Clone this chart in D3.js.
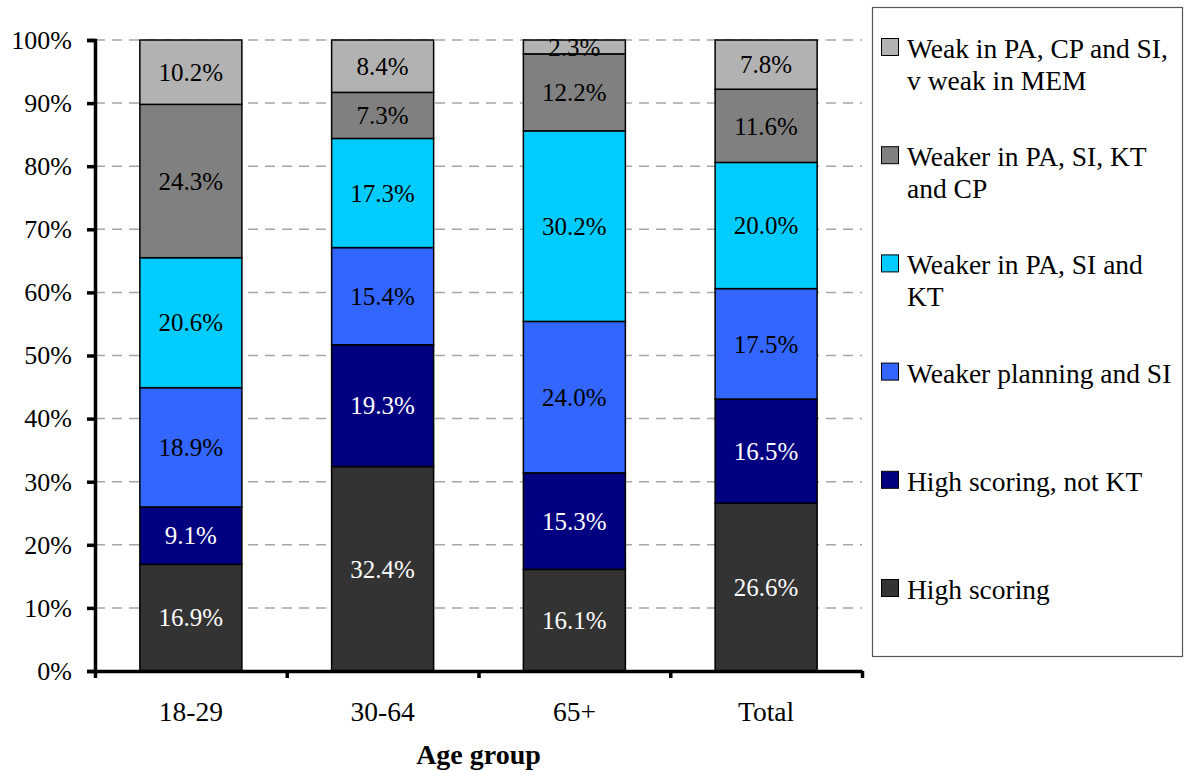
<!DOCTYPE html>
<html>
<head>
<meta charset="utf-8">
<script src="https://cdn.jsdelivr.net/npm/d3@7"></script>
<style>
  html, body { margin: 0; padding: 0; background: #fff; }
  svg { display: block; }
  svg text { font-family: "Liberation Serif", "Times New Roman", Times, serif !important; }
</style>
</head>
<body>
<svg id="chart" width="1187" height="771"></svg>
<script>
// Age groups along the x axis
const categories = ["18-29", "30-64", "65+", "Total"];

// Cluster shares (%) per age group, stacked bottom to top
const highScoring        = [16.9, 32.4, 16.1, 26.6];
const highScoringNotKT   = [9.1, 19.3, 15.3, 16.5];
const weakerPlanningSI   = [18.9, 15.4, 24.0, 17.5];
const weakerPaSiKt       = [20.6, 17.3, 30.2, 20.0];
const weakerPaSiKtCp     = [24.3, 7.3, 12.2, 11.6];
const weakPaCpSiMem      = [10.2, 8.4, 2.3, 7.8];

const seriesNames = [
  "High scoring",
  "High scoring, not KT",
  "Weaker planning and SI",
  "Weaker in PA, SI and KT",
  "Weaker in PA, SI, KT and CP",
  "Weak in PA, CP and SI, v weak in MEM"
];
// Legend text broken into lines as shown in the legend box
const legendLines = [
  ["High scoring"],
  ["High scoring, not KT"],
  ["Weaker planning and SI"],
  ["Weaker in PA, SI and", "KT"],
  ["Weaker in PA, SI, KT", "and CP"],
  ["Weak in PA, CP and SI,", "v weak in MEM"]
];
const seriesValues = [highScoring, highScoringNotKT, weakerPlanningSI, weakerPaSiKt, weakerPaSiKtCp, weakPaCpSiMem];

const yTicks = [0, 10, 20, 30, 40, 50, 60, 70, 80, 90, 100];
const xTitle = "Age group";

const colors = ["#333333", "#000080", "#3366ff", "#00ccff", "#808080", "#b2b2b2"];
const labelColors = ["#ffffff", "#ffffff", "#000000", "#000000", "#000000", "#000000"];

// Build rows for d3.stack
const rows = categories.map((c, i) => {
  const r = { cat: c };
  seriesNames.forEach((s, k) => { r[s] = seriesValues[k][i]; });
  return r;
});
const stacked = d3.stack().keys(seriesNames)(rows);

const svg = d3.select("#chart");
const plot = { left: 95, right: 862, top: 40, bottom: 671 };

const x = d3.scaleBand()
  .domain(categories)
  .range([plot.left, plot.right])
  .paddingInner(0.468)
  .paddingOuter(0.234);

const y = d3.scaleLinear().domain([0, 100]).range([plot.bottom, plot.top]);

// Dashed gridlines
svg.append("g")
  .selectAll("line")
  .data(yTicks.filter(t => t > 0))
  .join("line")
  .attr("x1", plot.left)
  .attr("x2", plot.right)
  .attr("y1", d => y(d))
  .attr("y2", d => y(d))
  .attr("stroke", "#a6a6a6")
  .attr("stroke-width", 1.5)
  .attr("stroke-dasharray", "10,7");

// Stacked bars
const layers = svg.append("g")
  .selectAll("g")
  .data(stacked)
  .join("g")
  .attr("fill", (d, i) => colors[i]);

layers.selectAll("rect")
  .data(d => d)
  .join("rect")
  .attr("x", d => x(d.data.cat))
  .attr("width", x.bandwidth())
  .attr("y", d => y(Math.min(d[1], 100)))
  .attr("height", d => y(d[0]) - y(Math.min(d[1], 100)))
  .attr("stroke", "#000")
  .attr("stroke-width", 1.5);

// Value labels centred in each segment
const labels = svg.append("g")
  .attr("font-size", 25)
  .attr("text-anchor", "middle");

stacked.forEach((layer, k) => {
  labels.selectAll(null)
    .data(layer)
    .join("text")
    .attr("x", d => x(d.data.cat) + x.bandwidth() / 2)
    .attr("y", d => (y(d[0]) + y(Math.min(d[1], 100))) / 2)
    .attr("dy", "0.35em")
    .attr("fill", labelColors[k])
    .text(d => d3.format(".1f")(d.data[layer.key]) + "%");
});

// Y axis
const yAxis = svg.append("g")
  .attr("transform", `translate(${plot.left},0)`)
  .call(d3.axisLeft(y)
    .tickValues(yTicks)
    .tickFormat(d => d + "%")
    .tickSize(8)
    .tickPadding(15));
yAxis.select(".domain").attr("stroke-width", 3.5);
yAxis.selectAll(".tick line").attr("stroke-width", 3.5);
yAxis.selectAll("text")
  .attr("font-size", 26)
  .attr("fill", "#000");

// X axis: tick marks at band boundaries
const xBounds = d3.scaleLinear().domain([0, categories.length]).range([plot.left, plot.right]);
const xAxisMarks = svg.append("g")
  .attr("transform", `translate(0,${plot.bottom})`)
  .call(d3.axisBottom(xBounds)
    .tickValues(d3.range(categories.length + 1))
    .tickFormat("")
    .tickSize(7)
    .tickSizeOuter(0));
xAxisMarks.select(".domain").attr("stroke-width", 3.5);
xAxisMarks.selectAll(".tick line").attr("stroke-width", 3.5);

// X axis: category labels centred under bars
const xAxisLabels = svg.append("g")
  .attr("transform", `translate(0,${plot.bottom})`)
  .call(d3.axisBottom(x).tickSize(0).tickPadding(30));
xAxisLabels.select(".domain").remove();
xAxisLabels.selectAll("text")
  .attr("font-size", 27.5)
  .attr("fill", "#000");

// X axis title
svg.append("text")
  .attr("x", (plot.left + plot.right) / 2)
  .attr("y", 764)
  .attr("text-anchor", "middle")
  .attr("font-size", 28)
  .attr("font-weight", "bold")
  .text(xTitle);

// Legend
const legend = svg.append("g");
legend.append("rect")
  .attr("x", 872.5)
  .attr("y", 7.5)
  .attr("width", 310)
  .attr("height", 649)
  .attr("fill", "#fff")
  .attr("stroke", "#555")
  .attr("stroke-width", 1.2);

const legendOrder = d3.range(seriesNames.length).reverse();
const legendY = d3.scalePoint().domain(legendOrder).range([58, 599]);

legendOrder.forEach(k => {
  const by = legendY(k);
  legend.append("rect")
    .attr("x", 881.5)
    .attr("y", by - 19.5)
    .attr("width", 17)
    .attr("height", 17)
    .attr("fill", colors[k])
    .attr("stroke", "#000")
    .attr("stroke-width", 1);
  const t = legend.append("text")
    .attr("x", 907)
    .attr("y", by)
    .attr("font-size", 27.5);
  legendLines[k].forEach((line, j) => {
    t.append("tspan")
      .attr("x", 907)
      .attr("y", by + j * 32)
      .text(line);
  });
});
</script>
</body>
</html>
